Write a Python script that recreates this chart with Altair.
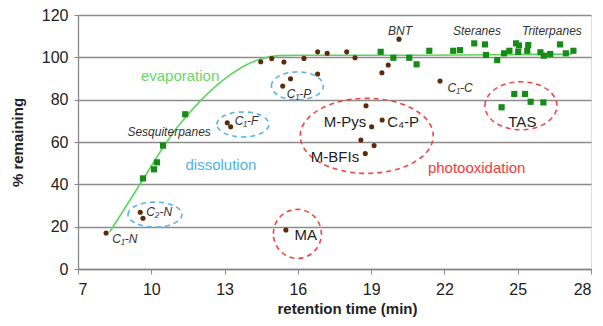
import altair as alt
import pandas as pd

# ---- data ----
brown_x = [8.15, 9.55, 9.66, 13.11, 13.25, 14.48, 14.93, 15.43, 15.7, 15.38, 16.25, 16.81,
           17.2, 16.81, 18.0, 18.34, 20.14, 19.44, 19.7, 21.82, 18.79, 19.02, 19.45, 18.58,
           19.12, 18.76, 15.51]
brown_y = [17, 26.8, 24, 69.1, 67.2, 97.9, 99.4, 97.8, 89.9, 86.4, 99.5, 102.6,
           101.9, 92.1, 102.6, 99.8, 108.6, 92.7, 96.4, 88.8, 77.1, 67.2, 70.4, 60.9,
           58.3, 54.6, 18.4]

green_x = [9.66, 10.11, 10.23, 10.48, 11.39, 19.39, 19.91, 20.56, 20.86, 21.38, 22.36, 22.64,
           23.22, 23.66, 23.7, 24.16, 24.44, 24.66, 24.93, 25.05, 25.02, 25.43, 25.39, 25.93,
           26.07, 26.33, 26.73, 26.97, 27.28, 24.34, 24.86, 25.3, 25.53, 26.05]
green_y = [42.8, 47.1, 50.4, 58.3, 73.1, 102.6, 99.8, 99.8, 96.7, 103.1, 103.1, 103.4,
           106.6, 106.1, 101.1, 98.7, 101.9, 103.1, 106.6, 105.6, 102.6, 105.8, 103.1, 102.4,
           100.8, 101.6, 106.1, 101.9, 103.1, 76.4, 82.7, 82.7, 79, 78.7]

curve_x = [8.3, 9.7, 10.4, 11.0, 11.5, 12.1, 12.7, 13.3, 13.9, 14.5, 15.2, 16.0, 20, 24, 27.2]
curve_y = [17.5, 43, 56, 66, 73, 80.5, 87, 92.3, 96.5, 99.3, 100.8, 101, 101, 101.2, 101.5]

italic_text = ["C\u2081-N", "C\u2082-N", "C\u2081-F", "C\u2081-P", "C\u2081-C", "BNT", "Steranes",
               "Triterpanes", "Sesquiterpanes"]
italic_x = [8.92, 10.32, 13.9, 16.05, 22.64, 20.18, 23.33, 26.4, 10.73]
italic_y = [14, 27.1, 70.1, 82.7, 85.3, 112.6, 112.6, 112.6, 64.9]

plain_text = ["M-Pys", "C\u2084-P", "M-BFIs", "MA", "TAS"]
plain_x = [17.93, 20.31, 17.52, 16.32, 25.19]
plain_y = [69.3, 69.3, 53.1, 16.1, 69.6]

process_text = ["evaporation", "dissolution", "photooxidation"]
process_x = [11.18, 12.85, 23.32]
process_y = [91.1, 49.1, 47.7]
process_color = ["#6ad66a", "#4fb3e3", "#f03a3a"]

ell_x = [10.15, 13.75, 15.98, 18.82, 15.98, 25.13]
ell_y = [25.7, 68.3, 86.5, 62.9, 16.6, 77.1]
ell_w = [54, 52, 52, 133, 48, 72]
ell_h = [25, 25, 28, 75, 49, 48]
ell_color = ["#5ab4e6", "#5ab4e6", "#5ab4e6", "#f04545", "#f04545", "#f04545"]

x_ticks = [7, 10, 13, 16, 19, 22, 25, 28]
y_ticks = [0, 20, 40, 60, 80, 100, 120]

# ---- tables ----
brown = pd.DataFrame({"x": brown_x, "y": brown_y})
green = pd.DataFrame({"x": green_x, "y": green_y})
curve = pd.DataFrame({"x": curve_x, "y": curve_y})
ital = pd.DataFrame({"x": italic_x, "y": italic_y, "t": italic_text})
plain = pd.DataFrame({"x": plain_x, "y": plain_y, "t": plain_text})
proc = pd.DataFrame({"x": process_x, "y": process_y, "t": process_text, "c": process_color})
ell = pd.DataFrame({
    "x": ell_x, "y": ell_y, "c": ell_color,
    "shape": [f"M-1,0A1,{h / w:.3f} 0 1,1 1,0A1,{h / w:.3f} 0 1,1 -1,0" for w, h in zip(ell_w, ell_h)],
    "size": [w * w for w in ell_w],
})

xs = alt.Scale(domain=[7, 28], nice=False, zero=False)
ys = alt.Scale(domain=[0, 120], nice=False)

X = alt.X("x:Q", scale=xs, axis=alt.Axis(
    values=x_ticks, title="retention time (min)", grid=False,
    tickSize=5, labelPadding=7, labelFontSize=16, labelColor="#222",
    titleFontSize=15, titleFontWeight="bold", titleColor="#222",
    titleX=269, titleY=39, titleBaseline="middle",
    domainColor="#888", tickColor="#888", domainWidth=1.3, labelFont="Arial", titleFont="Arial"))
Y = alt.Y("y:Q", scale=ys, axis=alt.Axis(
    values=y_ticks, title="% remaining", grid=True, gridColor="#8c8c8c", gridWidth=1.3,
    tickSize=4, labelPadding=6, labelFontSize=16, labelColor="#222",
    titleFontSize=15, titleFontWeight="bold", titleColor="#222",
    titleX=-61, titleY=127, titleAngle=-90, titleAlign="center", titleBaseline="middle",
    domainColor="#888", tickColor="#888", domainWidth=1.3, labelFont="Arial", titleFont="Arial"))

base_x = alt.X("x:Q", scale=xs)
base_y = alt.Y("y:Q", scale=ys)

axes_layer = alt.Chart(curve).mark_line(opacity=0).encode(x=X, y=Y)

curve_layer = alt.Chart(curve).mark_line(color="#5fd35f", strokeWidth=1.6, interpolate="monotone").encode(
    x=base_x, y=base_y)

ell_layer = alt.Chart(ell).mark_point(filled=False, strokeWidth=1.6, strokeDash=[5, 4], opacity=1).encode(
    x=base_x, y=base_y,
    shape=alt.Shape("shape:N", scale=None),
    size=alt.Size("size:Q", scale=None),
    color=alt.Color("c:N", scale=None))

brown_layer = alt.Chart(brown).mark_circle(color="#5a2a0a", size=26, opacity=1).encode(x=base_x, y=base_y)
green_layer = alt.Chart(green).mark_square(color="#168c16", size=38, opacity=1).encode(x=base_x, y=base_y)

ital_layer = alt.Chart(ital).mark_text(fontStyle="italic", fontSize=12, color="#333", font="Arial",
                                       baseline="middle").encode(x=base_x, y=base_y, text="t:N")
plain_layer = alt.Chart(plain).mark_text(fontSize=15, color="#222", font="Arial",
                                         baseline="middle").encode(x=base_x, y=base_y, text="t:N")
proc_layer = alt.Chart(proc).mark_text(fontSize=15, font="Arial", baseline="middle").encode(
    x=base_x, y=base_y, text="t:N", color=alt.Color("c:N", scale=None))

chart = alt.layer(
    axes_layer, curve_layer, ell_layer, brown_layer, green_layer, ital_layer, plain_layer, proc_layer
).properties(
    width=513, height=254,
    autosize=alt.AutoSizeParams(type="none"),
    padding={"left": 70, "top": 7, "right": 4, "bottom": 49},
).configure_view(stroke="#888", strokeWidth=1.3).configure(background="white")

chart.save("out.html", embed_options={"renderer": "svg", "actions": False})
